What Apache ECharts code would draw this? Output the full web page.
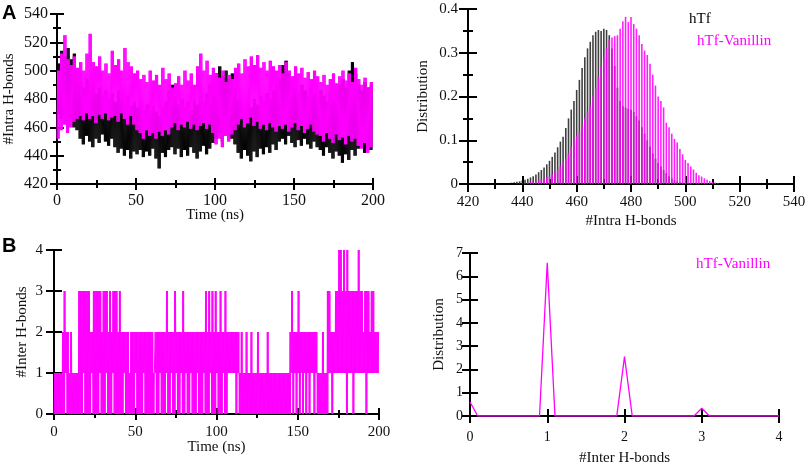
<!DOCTYPE html>
<html>
<head>
<meta charset="utf-8">
<title>Intra / Inter H-bonds</title>
<script src="https://cdn.jsdelivr.net/npm/echarts@6.0.0/dist/echarts.min.js"></script>
<style>
html, body { margin: 0; padding: 0; background: #fff; }
#chart { width: 809px; height: 464px; }
</style>
</head>
<body>
<div id="chart"></div>
<script>
// --- dados --------------------------------------------------------------

// A (esq): #Intra H-bonds vs tempo, faixa min/max a cada 2 ns (t = 0..198)
var binA = 2;
var htfHiA = [
  505,514,510,516,508,512,498,492,488,494,
  486,490,484,488,482,486,480,484,478,486,
  480,476,482,475,478,474,478,472,476,470,
  475,471,468,474,478,486,490,482,476,480,
  474,478,472,480,476,482,478,484,490,494,
  498,503,496,500,494,498,488,480,476,472,
  478,474,480,476,482,478,484,480,486,490,
  494,504,507,498,492,488,484,490,486,482,
  488,484,480,486,482,478,484,480,486,490,
  494,488,500,506,498,490,486,492,488,490
];
var htfLoA = [
  470,466,468,463,466,460,458,452,448,454,
  450,446,452,449,455,450,447,452,446,442,
  445,440,444,438,443,441,444,439,443,440,
  445,438,431,442,439,444,446,441,445,439,
  444,440,446,442,438,443,447,441,445,449,
  452,456,450,458,454,452,448,442,438,444,
  440,436,443,439,445,441,446,442,448,444,
  450,452,448,454,449,446,451,447,452,448,
  445,450,446,444,440,446,442,438,443,440,
  435,441,437,444,440,445,446,442,447,444
];
var vanHiA = [
  500,512,525,508,504,510,502,506,500,512,
  526,506,503,510,500,505,498,514,504,508,
  500,516,506,503,498,500,494,497,492,500,
  493,497,490,502,494,498,488,491,496,490,
  500,493,498,490,503,512,500,507,497,502,
  498,495,500,492,497,494,502,505,498,508,
  503,510,504,511,502,506,500,507,503,500,
  504,498,506,500,496,503,498,502,495,499,
  494,500,496,492,497,490,494,498,491,496,
  500,493,498,492,502,494,490,495,488,492
];
var vanLoA = [
  452,458,462,456,460,464,466,468,465,470,
  466,468,463,469,466,470,465,467,468,464,
  470,466,462,468,462,458,456,452,458,454,
  456,452,457,454,458,455,460,463,458,462,
  460,464,459,462,458,461,463,459,462,456,
  448,452,446,454,450,455,458,462,466,460,
  463,467,461,464,459,462,458,463,460,457,
  461,459,462,457,460,463,458,461,456,459,
  462,457,455,454,450,456,452,449,455,451,
  453,448,454,450,452,447,445,449,442,446
];

// A (dir): distribuicao do #Intra H-bonds (bins 436..512)
var intraStart = 436;
var htfDist = [
  0.003,0.004,0.005,0.006,0.008,0.010,0.012,0.015,0.018,0.022,
  0.027,0.032,0.038,0.045,0.053,0.062,0.072,0.084,0.097,0.108,
  0.128,0.150,0.170,0.190,0.215,0.238,0.265,0.290,0.310,0.325,
  0.340,0.348,0.352,0.350,0.355,0.352,0.340,0.310,0.270,0.220,
  0.190,0.178,0.175,0.172,0.170,0.165,0.155,0.145,0.130,0.115,
  0.100,0.085,0.070,0.058,0.048,0.040,0.032,0.025,0.018,0.013,
  0.009,0.006,0.004,0.003,0.002,0.001,0.001,0,0,0,
  0,0,0,0,0,0,0
];
var vanDist = [
  0,0,0.001,0.001,0.001,0.002,0.003,0.004,0.005,0.006,
  0.008,0.010,0.012,0.015,0.018,0.022,0.027,0.033,0.040,0.050,
  0.058,0.070,0.085,0.100,0.110,0.120,0.135,0.150,0.165,0.180,
  0.200,0.220,0.245,0.270,0.290,0.310,0.330,0.335,0.338,0.340,
  0.355,0.372,0.382,0.370,0.382,0.366,0.355,0.340,0.320,0.305,
  0.295,0.275,0.250,0.225,0.200,0.190,0.175,0.140,0.130,0.115,
  0.103,0.095,0.080,0.068,0.055,0.048,0.040,0.033,0.026,0.020,
  0.017,0.013,0.010,0.007,0.005,0.003,0.002
];

// B (esq): #Inter H-bonds vs tempo, faixa min/max a cada 1 ns (t = 0..199)
var binB = 1;
var interLoB = [
  0,0,0,0,0,0,0,1,0,0, 0,0,0,0,0,0,0,0,1,0,
  0,0,0,1,0,0,0,0,1,0, 0,0,1,0,0,0,1,0,0,0,
  0,0,0,1,0,0,0,0,0,0, 1,0,0,0,0,1,0,0,0,0,
  0,0,1,0,0,1,0,0,0,1, 0,0,1,0,0,1,0,0,1,0,
  0,1,0,0,1,0,0,0,1,0, 0,0,1,0,0,0,1,0,0,0,
  1,0,0,0,1,0,0,1,1,1, 1,1,0,1,0,0,0,0,0,0,
  0,0,0,0,0,0,0,0,0,0, 0,0,0,0,0,0,0,0,0,0,
  0,0,0,0,0,0,1,0,1,0, 1,0,1,0,1,0,1,0,1,1,
  0,1,0,0,0,0,0,0,0,1, 1,0,1,1,1,1,1,1,1,1,
  0,1,1,1,0,1,1,1,1,1, 1,1,0,1,1,1,1,1,1,1
];
var interHiB = [
  1,1,1,1,1,2,3,2,2,1, 2,1,1,1,1,3,3,3,3,3,
  3,3,2,2,3,3,3,3,3,2, 3,3,3,2,3,2,3,3,3,2,
  3,2,2,2,2,2,1,2,2,2, 2,2,2,2,2,2,2,2,2,2,
  2,1,2,2,2,2,2,2,2,3, 2,2,2,2,3,2,2,2,2,3,
  2,2,2,2,2,2,2,2,2,2, 2,2,2,3,2,3,2,3,2,3,
  2,2,3,2,2,3,2,2,2,2, 2,2,2,2,1,2,1,1,2,1,
  1,2,1,1,1,2,1,1,1,1, 1,2,1,1,1,1,1,1,1,1,
  1,1,1,1,1,2,3,2,2,2, 3,2,2,2,2,2,2,2,2,2,
  2,2,1,1,1,2,1,1,3,3, 2,2,2,3,3,4,4,3,4,3,
  4,3,3,3,3,3,3,4,3,3, 2,3,3,3,2,3,3,2,2,2
];

// B (dir): distribuicao do #Inter H-bonds
var interXs   = [0, 0.1, 0.9, 1.0, 1.1, 1.9, 2.0, 2.1, 2.9, 3.0, 3.1, 4.0];
var interDist = [0.6, 0, 0, 6.58, 0, 0, 2.55, 0, 0, 0.33, 0, 0];

// --- montagem -------------------------------------------------------------
var SERIF = 'Liberation Serif';
var MAG = '#ff00ff';

// faixa min/max de cada bin vira um zigue-zague denso (reps idas e voltas por bin)
function zigzag(lo, hi, bin, reps) {
    var out = [];
    var step = bin / (2 * reps);
    for (var i = 0; i < lo.length; i++) {
        for (var k = 0; k < reps; k++) {
            out.push([i * bin + 2 * k * step, lo[i]]);
            out.push([i * bin + (2 * k + 1) * step, hi[i]]);
        }
    }
    return out;
}

function histo(start, vals) {
    var out = [];
    for (var i = 0; i < vals.length; i++) out.push([start + i, vals[i]]);
    return out;
}

function pairs(xs, ys) {
    return xs.map(function (x, i) { return [x, ys[i]]; });
}

// eixo principal (ticks para fora + rotulos) e copia (ticks para dentro)
function axisPair(grid, o) {
    var main = {
        type: 'value', gridIndex: grid, position: o.position,
        min: o.min, max: o.max, interval: o.interval,
        axisLine: { show: true, onZero: false, lineStyle: { color: '#000', width: 2 } },
        axisTick: { show: true, inside: false, length: o.tick, lineStyle: { color: '#000', width: 2 } },
        minorTick: { show: !!o.minor, splitNumber: o.minor || 2, length: o.minorLen || 4,
                     lineStyle: { color: '#000', width: 2 } },
        splitLine: { show: false },
        minorSplitLine: { show: false },
        axisLabel: { show: true, margin: o.margin, color: '#111', fontFamily: SERIF, fontSize: o.fontSize },
        name: o.name, nameLocation: 'middle', nameGap: o.nameGap, nameMoveOverlap: false,
        nameTextStyle: { color: '#111', fontFamily: SERIF, fontSize: o.nameSize }
    };
    var dup = JSON.parse(JSON.stringify(main));
    dup.axisTick.inside = true;
    dup.axisLine.show = false;
    dup.axisLabel.show = false;
    dup.name = '';
    return [main, dup];
}

var xAxes = [].concat(
    axisPair(0, { position: 'bottom', min: 0, max: 200, interval: 50, minor: 2, tick: 6, minorLen: 4,
                  margin: 9, fontSize: 16, name: 'Time (ns)', nameGap: 24, nameSize: 15 }),
    axisPair(1, { position: 'bottom', min: 420, max: 540, interval: 20, minor: 2, tick: 8, minorLen: 5,
                  margin: 11, fontSize: 15, name: '#Intra H-bonds', nameGap: 30, nameSize: 15 }),
    axisPair(2, { position: 'bottom', min: 0, max: 200, interval: 50, minor: 2, tick: 6, minorLen: 4,
                  margin: 11, fontSize: 15, name: 'Time (ns)', nameGap: 26, nameSize: 15 }),
    axisPair(3, { position: 'bottom', min: 0, max: 4, interval: 1, minor: 0, tick: 7,
                  margin: 14, fontSize: 14, name: '#Inter H-bonds', nameGap: 35, nameSize: 15 })
);
var yAxes = [].concat(
    axisPair(0, { position: 'left', min: 420, max: 540, interval: 20, minor: 2, tick: 7, minorLen: 4,
                  margin: 9, fontSize: 16, name: '#Intra H-bonds', nameGap: 40, nameSize: 15 }),
    axisPair(1, { position: 'left', min: 0, max: 0.4, interval: 0.1, minor: 2, tick: 9, minorLen: 5,
                  margin: 10, fontSize: 15, name: 'Distribution', nameGap: 37, nameSize: 15 }),
    axisPair(2, { position: 'left', min: 0, max: 4, interval: 1, minor: 0, tick: 8,
                  margin: 11, fontSize: 15, name: '#Inter H-bonds', nameGap: 24, nameSize: 15 }),
    axisPair(3, { position: 'left', min: 0, max: 7, interval: 1, minor: 0, tick: 8,
                  margin: 7, fontSize: 14, name: 'Distribution', nameGap: 23, nameSize: 15 })
);

var option = {
    animation: false,
    backgroundColor: '#fff',
    grid: [
        { left: 57,  top: 14,  width: 316, height: 170, containLabel: false, outerBoundsMode: 'none' },
        { left: 468, top: 9,   width: 326, height: 175, containLabel: false, outerBoundsMode: 'none' },
        { left: 54,  top: 250, width: 325, height: 164, containLabel: false, outerBoundsMode: 'none' },
        { left: 470, top: 253, width: 309, height: 163, containLabel: false, outerBoundsMode: 'none' }
    ],
    xAxis: xAxes,
    yAxis: yAxes,
    graphic: [
        { type: 'text', left: 2, top: 3, style: { text: 'A', fontFamily: 'Liberation Sans', fontWeight: 'bold', fontSize: 20, fill: '#000' } },
        { type: 'text', left: 2, top: 236, style: { text: 'B', fontFamily: 'Liberation Sans', fontWeight: 'bold', fontSize: 20, fill: '#000' } },
        { type: 'text', left: 689, top: 12, style: { text: 'hTf', fontFamily: SERIF, fontSize: 15, fill: '#000' } },
        { type: 'text', left: 697, top: 34, style: { text: 'hTf-Vanillin', fontFamily: SERIF, fontSize: 15, fill: MAG } },
        { type: 'text', left: 696, top: 257, style: { text: 'hTf-Vanillin', fontFamily: SERIF, fontSize: 15, fill: MAG } }
    ],
    series: [
        {
            name: 'hTf', type: 'line', xAxisIndex: 0, yAxisIndex: 0, z: 2,
            data: zigzag(htfLoA, htfHiA, binA, 3), symbol: 'none', silent: true,
            lineStyle: { color: '#000', width: 1, opacity: 0.9 }
        },
        {
            name: 'hTf-Vanillin', type: 'line', xAxisIndex: 0, yAxisIndex: 0, z: 3,
            data: zigzag(vanLoA, vanHiA, binA, 3), symbol: 'none', silent: true,
            lineStyle: { color: MAG, width: 1 }
        },
        {
            name: 'hTf', type: 'bar', xAxisIndex: 2, yAxisIndex: 2, z: 2,
            data: histo(intraStart, htfDist), barWidth: 1.6, barGap: '-100%', silent: true,
            itemStyle: { color: '#000', opacity: 0.75 }
        },
        {
            name: 'hTf-Vanillin', type: 'bar', xAxisIndex: 2, yAxisIndex: 2, z: 3,
            data: histo(intraStart, vanDist), barWidth: 1.6, barGap: '-100%', silent: true,
            itemStyle: { color: MAG, opacity: 0.88 }
        },
        {
            name: 'hTf-Vanillin', type: 'line', xAxisIndex: 4, yAxisIndex: 4,
            data: zigzag(interLoB, interHiB, binB, 2), symbol: 'none', silent: true,
            lineStyle: { color: MAG, width: 1 }
        },
        {
            name: 'hTf-Vanillin', type: 'line', xAxisIndex: 6, yAxisIndex: 6,
            data: pairs(interXs, interDist), symbol: 'none', silent: true,
            lineStyle: { color: MAG, width: 1.3 }
        }
    ]
};

var myChart = echarts.init(document.getElementById('chart'));
myChart.setOption(option);
</script>
</body>
</html>
